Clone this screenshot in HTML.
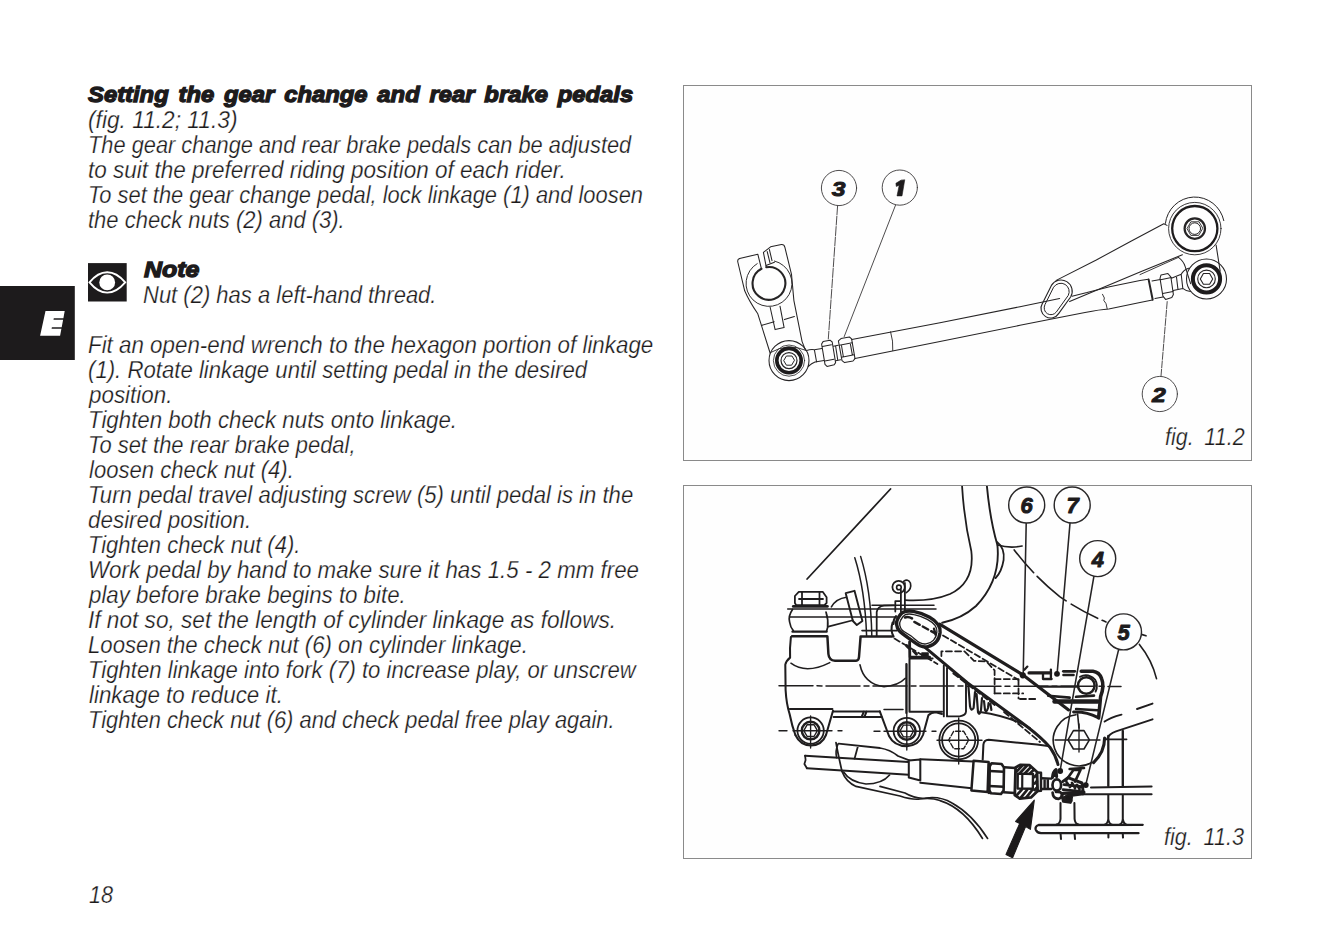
<!DOCTYPE html>
<html lang="en">
<head>
<meta charset="utf-8">
<title>Setting the gear change and rear brake pedals</title>
<style>
html,body{margin:0;padding:0;background:#fff;}
body{width:1338px;height:944px;overflow:hidden;font-family:"Liberation Sans",sans-serif;color:#1d1b1c;}
#page{position:relative;width:1338px;height:944px;background:#fff;overflow:hidden;}
.t,.h{position:absolute;white-space:pre;font-family:"Liberation Sans",sans-serif;font-style:italic;line-height:26px;height:26px;margin-top:-21px;color:#1d1b1c;transform-origin:0 0;}
.t{font-weight:400;font-size:23px;-webkit-text-stroke:0.25px #fff;}
.h{font-weight:700;font-size:22.5px;-webkit-text-stroke:1.3px #1d1b1c;word-spacing:3px;}
.frame{position:absolute;box-sizing:border-box;border:1px solid #8a8a8a;background:#fefefe;}
.c{word-spacing:5px;z-index:3;}
svg{position:absolute;overflow:visible;}
svg text{font-family:"Liberation Sans",sans-serif;}
</style>
</head>
<body>
<div id="page">
<div class="h" style="left:88.20px;top:102.5px;transform:scaleX(1.0588)">Setting the gear change and rear brake pedals</div>
<div class="t" style="left:87.81px;top:127.5px;transform:scaleX(0.9879)">(fig. 11.2; 11.3)</div>
<div class="t" style="left:88.40px;top:152.5px;transform:scaleX(0.9483)">The gear change and rear brake pedals can be adjusted</div>
<div class="t" style="left:88.02px;top:177.5px;transform:scaleX(0.9798)">to suit the preferred riding position of each rider.</div>
<div class="t" style="left:88.40px;top:202.5px;transform:scaleX(0.9511)">To set the gear change pedal, lock linkage (1) and loosen</div>
<div class="t" style="left:88.04px;top:227.5px;transform:scaleX(0.9562)">the check nuts (2) and (3).</div>
<div class="h" style="left:143.50px;top:277.5px;transform:scaleX(1.1100)">Note</div>
<div class="t" style="left:142.54px;top:302.5px;transform:scaleX(0.9564)">Nut (2) has a left-hand thread.</div>
<div class="t" style="left:87.53px;top:352.5px;transform:scaleX(0.9716)">Fit an open-end wrench to the hexagon portion of linkage</div>
<div class="t" style="left:88.04px;top:377.5px;transform:scaleX(0.9640)">(1). Rotate linkage until setting pedal in the desired</div>
<div class="t" style="left:88.97px;top:402.5px;transform:scaleX(0.9738)">position.</div>
<div class="t" style="left:88.36px;top:427.5px;transform:scaleX(0.9691)">Tighten both check nuts onto linkage.</div>
<div class="t" style="left:88.39px;top:452.5px;transform:scaleX(0.9540)">To set the rear brake pedal,</div>
<div class="t" style="left:88.50px;top:477.5px;transform:scaleX(0.9592)">loosen check nut (4).</div>
<div class="t" style="left:88.38px;top:502.5px;transform:scaleX(0.9612)">Turn pedal travel adjusting screw (5) until pedal is in the</div>
<div class="t" style="left:87.53px;top:527.5px;transform:scaleX(0.9744)">desired position.</div>
<div class="t" style="left:88.39px;top:552.5px;transform:scaleX(0.9553)">Tighten check nut (4).</div>
<div class="t" style="left:87.56px;top:577.5px;transform:scaleX(0.9708)">Work pedal by hand to make sure it has 1.5 - 2 mm free</div>
<div class="t" style="left:88.97px;top:602.5px;transform:scaleX(0.9675)">play before brake begins to bite.</div>
<div class="t" style="left:87.52px;top:627.5px;transform:scaleX(0.9835)">If not so, set the length of cylinder linkage as follows.</div>
<div class="t" style="left:87.54px;top:652.5px;transform:scaleX(0.9636)">Loosen the check nut (6) on cylinder linkage.</div>
<div class="t" style="left:88.38px;top:677.5px;transform:scaleX(0.9617)">Tighten linkage into fork (7) to increase play, or unscrew</div>
<div class="t" style="left:88.50px;top:702.5px;transform:scaleX(0.9721)">linkage to reduce it.</div>
<div class="t" style="left:88.40px;top:727.5px;transform:scaleX(0.9515)">Tighten check nut (6) and check pedal free play again.</div>
<div class="t" style="left:88.56px;top:902.5px;transform:scaleX(0.9400)">18</div>
<div class="t c" style="left:1165.06px;top:444.7px;transform:scaleX(0.9357)">fig. 11.2</div>
<div class="t c" style="left:1163.86px;top:844.5px;transform:scaleX(0.9399)">fig. 11.3</div>
<!-- side tab -->
<svg style="left:0;top:286px" width="75" height="74" viewBox="0 286 75 74">
  <rect x="0" y="286" width="74.8" height="74" fill="#1d1b1c"/>
  <path d="M45.5 311.1 L64.7 311.1 L63.4 318.3 L53.8 318.3 L53.5 319.8 L63.1 319.8 L61.7 327.3 L51.9 327.3 L51.6 328.8 L61.4 328.8 L60.1 335.8 L40.1 335.8 Z" fill="#fff"/>
</svg>
<!-- note icon -->
<svg style="left:88px;top:263px" width="39" height="39" viewBox="88 263 39 39">
  <rect x="88" y="263.1" width="38.7" height="38.4" fill="#1d1b1c"/>
  <path d="M89.5 282.4 C96 274.5 101.5 272.3 107.2 272.3 C113 272.3 118.5 274.5 125.2 282.4 C118.5 290.3 113 292.6 107.2 292.6 C101.5 292.6 96 290.3 89.5 282.4 Z" fill="none" stroke="#fff" stroke-width="1.9"/>
  <circle cx="107.2" cy="282.4" r="7.9" fill="#fff"/>
</svg>
<!-- figure frames -->
<div class="frame" style="left:683px;top:85px;width:569px;height:376px"></div>
<div class="frame" style="left:683px;top:485px;width:569px;height:374px"></div>

<!-- fig 11.2 : gear change linkage -->
<svg style="left:683px;top:85px" width="569" height="376" viewBox="683 85 569 376" fill="none" stroke="#262425" stroke-width="1.05" stroke-linecap="round" stroke-linejoin="round">
  <!-- callout leaders -->
  <g stroke-width="0.9" stroke="#3a3839">
    <line x1="837.6" y1="205.6" x2="828.3" y2="339" stroke-dasharray="9 1.5"/>
    <line x1="895.6" y1="205" x2="844.2" y2="336.6"/>
    <line x1="1167.2" y1="301.6" x2="1161" y2="376.2" stroke-dasharray="7 1.5"/>
  </g>
  <!-- callout circles -->
  <g stroke-width="0.9" fill="#fefefe" stroke="#3a3839">
    <circle cx="839" cy="188" r="17.6"/>
    <circle cx="899.8" cy="187.6" r="17.6"/>
    <circle cx="1159.8" cy="394" r="17.6"/>
  </g>
  <g fill="#1d1b1c" stroke="#1d1b1c" stroke-width="0.9" font-size="21" font-weight="700" font-style="italic" text-anchor="middle">
    <text x="838.6" y="195.6" transform="translate(838.6 0) scale(1.18 1) translate(-838.6 0)">3</text>
    <path d="M904.7 180.1 L902 195.9 L897 195.9 L899.2 185.3 L896.3 186.4 L895.9 183.3 L900.8 180.3 Z" stroke-width="0.6"/>
    <text x="1158.8" y="401.6" transform="translate(1158.8 0) scale(1.18 1) translate(-1158.8 0)">2</text>
  </g>

  <!-- left clamp lever -->
  <path d="M739.6 258.6 L757.8 254.2 L761.45 268.8"/>
  <path d="M766.3 267.2 L763.4 252.4 L770.6 246.8 L781.4 244.6 Q784.2 244.4 784.9 247.4 L791.5 274.4 L793.9 300.6 L802.1 341.6 L805.4 350"/>
  <path d="M739.6 258.6 Q737.2 259.4 737.8 262 L744.7 290.8 Q749 301 757.8 313.8 L770.1 353"/>
  <path d="M766 265.4 L774.4 262.2"/>
  <path d="M767.2 251.6 L770 262.8 M769.4 249.6 L772 260.6"/>
  <!-- clamp ring -->
  <path d="M761.45 268.8 A16.4 16.4 0 1 0 766.3 267.2" stroke-width="2.1"/>
  <path d="M757.2 263.6 A23 23 0 1 0 774.4 261" stroke-width="0.95"/>
  <!-- slot below ring -->
  <path d="M770.1 307 L775.1 329.6 L784.1 327.6 L780 306.2"/>
  <path d="M761.4 325.4 L774.2 321.8 M784.4 319.6 L794.4 316.6"/>
  <!-- lower-left eye -->
  <circle cx="789" cy="360.6" r="20" />
  <path d="M770.8 352.4 Q788 342.4 806 350.4" stroke-width="0.9"/>
  <circle cx="789" cy="360.6" r="12.2" stroke-width="3.6" stroke="#1d1b1c"/>
  <circle cx="789" cy="360.6" r="15.6" stroke-width="0.8"/>
  <circle cx="789" cy="360.6" r="8" stroke-width="1.2"/>
  <path d="M794.3 360.6 L791.6 365.2 L786.4 365.2 L783.7 360.6 L786.4 356 L791.6 356 Z" stroke-width="1"/>
  <!-- rod-end neck -->
  <path d="M806.6 350.6 Q811 349 814.4 349.8 L823.4 348.2 M808.4 366.4 Q811.6 363.4 815 362 L824 360.6 M814.4 349.8 L816.6 362"/>
  <!-- nut 3 -->
  <path d="M823.1 341.6 L830 340.2 L832.2 342 L835.6 362.6 L834.2 364.8 L827 366.4 L825 364.4 L821.6 344 Z" fill="#fefefe"/>
  <path d="M822.4 346.6 L831.4 344.8 M824.8 361 L834 359.2"/>
  <!-- thread between nuts -->
  <path d="M833.4 346.2 L838.2 345.2 M835.8 360.8 L840.6 359.8 M835.6 346 L837.8 360.4" />
  <!-- nut 1 (hexagon of linkage) -->
  <path d="M838.4 340.8 L841 338.6 L849.4 337 L851.6 338.8 L855 358.6 L853 361 L844.6 362.6 L842 360.6 Z" fill="#fefefe"/>
  <path d="M839.4 345.2 L852.2 342.8 M841.6 357.2 L854.2 354.8 M841.4 345 L843.4 357 M850.2 343.2 L852.4 355.2"/>
  <!-- main rod -->
  <path d="M851.8 339.6 L940 322.8 L1020 306.7 L1059.6 298.6"/>
  <path d="M855 358.6 L940 341.4 L1020 325.3 L1058.1 317.7 L1085 312.6 Q1100 309.6 1108.7 309.1 L1140 302.4 L1152.4 300"/>
  <path d="M890.6 331.8 Q893.4 341 892.8 350.6" stroke-width="0.9"/>
  <!-- foot loop (oval) -->
  <path d="M1051.4 285.4 A11.2 11.2 0 0 1 1070.6 297 L1058.8 313.4 A9.6 9.6 0 0 1 1042.4 303.4 Z" stroke-width="1.1"/>
  <path d="M1053.8 286.9 A8.4 8.4 0 0 1 1068.2 295.5 L1056.4 311.9 A6.8 6.8 0 0 1 1044.8 304.9 Z" stroke-width="1.0"/>
  <!-- upper arm -->
  <path d="M1056.2 280.4 L1096.3 260 L1130 241.7 L1163.8 223.8 L1167 225.4"/>
  <path d="M1069.6 301.6 L1140 271.9 L1182.4 254.8"/>
  <path d="M1072 296.2 L1087 292.6 M1087 292.6 L1109.6 286.7 L1140 280.5 L1148.4 279.2"/>
  <path d="M1102.5 294.3 L1104.4 298 L1103.8 300.4 L1106 303.6 L1107.2 308.8" stroke-width="0.9"/>
  <!-- upper-right big eye -->
  <path d="M1165.4 223.4 A29.6 29.6 0 0 1 1223.8 220.6" stroke-width="1"/>
  <circle cx="1194.8" cy="228.6" r="26.2" stroke-width="0.9"/>
  <circle cx="1194.8" cy="228.6" r="22.6" stroke-width="2.3" stroke="#1d1b1c"/>
  <circle cx="1194.8" cy="228.6" r="10.2" stroke-width="2.2"/>
  <circle cx="1194.8" cy="228.6" r="5.8" stroke-width="1"/>
  <path d="M1202.6 228.6 L1198.7 235.4 L1190.9 235.4 L1187 228.6 L1190.9 221.8 L1198.7 221.8 Z" stroke-width="0.9"/>
  <!-- link between eyes -->
  <path d="M1216.1 245.1 L1220.2 271.3"/>
  <path d="M1178.4 257.4 Q1183.4 261 1185.1 266.4 L1190.6 283.7"/>
  <path d="M1178.4 257.4 L1140 274.6" stroke-width="0.9"/>
  <!-- lower-right eye -->
  <circle cx="1206.5" cy="278.9" r="20"/>
  <circle cx="1206.5" cy="278.9" r="13.6" stroke-width="4" stroke="#1d1b1c"/>
  <circle cx="1206.5" cy="278.9" r="8.8" stroke-width="1.1"/>
  <path d="M1212.7 278.9 L1209.6 284.3 L1203.4 284.3 L1200.3 278.9 L1203.4 273.5 L1209.6 273.5 Z" stroke-width="1.1"/>
  <!-- right rod end neck -->
  <path d="M1188.6 268.2 Q1183.4 270 1181.2 274.2 L1171.4 278.2 M1190.4 291.6 Q1185.6 290.8 1182.8 288.4 L1173.2 290.6 M1181.2 274.2 L1182.8 288.4 M1176.4 276.2 L1178 289.6"/>
  <!-- nut 2 -->
  <path d="M1161 274.9 L1167.9 273.5 L1170.9 277.2 L1173.4 294.6 L1171.8 297.6 L1165.6 299.4 L1162.9 296.2 L1160 278.4 Z" fill="#fefefe"/>
  <path d="M1160.6 279.8 L1171.4 277.6 M1162.8 293.4 L1173 291.4"/>
  <!-- thread / collar -->
  <path d="M1148.6 279.4 L1152.7 299.8" stroke-width="2"/>
  <path d="M1152 281 L1160.4 279.4 M1155 298.6 L1163 297"/>
</svg>

<!-- fig 11.3 : rear brake pedal -->
<svg style="left:683px;top:485px" width="569" height="374" viewBox="683 485 569 374" fill="none" stroke="#1f1d1e" stroke-width="1.70" stroke-linecap="round" stroke-linejoin="round">
  <defs><clipPath id="f2clip"><rect x="684" y="486" width="567" height="372"/></clipPath></defs>
  <g clip-path="url(#f2clip)">
  <!-- ===== background frame parts ===== -->
  <path d="M890.5 489 L807.1 579" stroke-width="1.77"/>
  <!-- frame tube, inner/left edge -->
  <path d="M962 485 Q964 520 971.3 551 Q975 582 950 594 Q932 601.6 905 600.2" stroke-width="1.77"/>
  <!-- frame tube, outer/right edge -->
  <path d="M986.8 485 Q990 520 997.4 545 Q1001 580 976 606 Q962 618.6 942.2 622.7" stroke-width="1.90"/>
  <path d="M997 542 Q1005 548 1003.6 560 Q1001.6 572 995.6 578" stroke-width="1.77"/>
  <path d="M997.4 545 Q1010 548.6 1022.1 546" stroke-width="1.63"/>
  <!-- dashed swing arc -->
  <path d="M1014.2 549.9 Q1034 576 1059.7 596.6 Q1082 612 1106 622" stroke-dasharray="30 5 38 6" stroke-width="1.63"/>
  <path d="M1141.4 634.4 L1146 635.8" stroke-width="1.63"/>
  <path d="M1139.4 644.4 Q1152 660 1156.5 678.6" stroke-width="1.63"/>
  <!-- swingarm lines on the right -->
  <path d="M1104.6 721.6 Q1110 717.6 1121.5 714.6 M1137 709 L1152.5 703.6" stroke-width="1.90"/>
  <path d="M1107.4 738.6 Q1109 733.6 1116 731.4 L1152.5 719.4" stroke-width="2.04"/>
  <!-- footrest grid -->
  <path d="M1108.3 736 L1108.3 786" stroke-width="2.31"/>
  <path d="M1122.8 731 L1122.8 786" stroke-width="2.36"/>
  <path d="M1104.6 739.4 L1126.6 739.4" stroke-width="1.63"/>
  <path d="M1091 787.5 L1151.6 786.4 M1082.5 794.3 L1151.6 794.3" stroke-width="2.04"/>
  <path d="M1108.3 795 L1108.3 819 Q1107.8 823.6 1104.6 824.6 M1108.3 819 Q1108.8 823.6 1112 824.6 M1122.8 795 L1122.8 819 Q1122.4 823.6 1119.4 824.6 M1122.8 819 Q1123.4 823.6 1126.4 824.6" stroke-width="2.04"/>
  <path d="M1060.5 803 L1060.5 819 Q1060 823.6 1056.6 824.6 M1074.4 803 L1074.6 819 Q1075 823.6 1078.4 824.6" stroke-width="2.04"/>
  <path d="M1142.7 824.8 L1038.6 825 Q1034.8 826.4 1035.7 829.6 Q1037 833 1041 833.2 L1138.5 833.2" stroke-width="2.31"/>
  <path d="M1060.6 834 L1061 839 M1074.6 834 L1075 839 M1108.4 834 L1108.4 837.6 M1122.8 834 L1123 837.6" stroke-width="2.04"/>

  <!-- ===== brake master cylinder body ===== -->
  <!-- cap bolt -->
  <path d="M798.8 591.8 L822.7 591.8 L826.6 597.2 L826.6 603 L824.4 605.2 L796.2 605.2 L794.9 603 L794.9 596 Z M802 592 L802 605 M819.5 592 L819.5 605 M799 599 L823 599" stroke-width="1.77"/>
  <path d="M793.3 606.4 L827.4 606.4" stroke-width="2.83"/>
  <!-- long horizontals -->
  <path d="M787.7 608.9 L936 608.9 M790 617.1 L897 617.1" stroke-width="1.50"/>
  <path d="M872 605.2 L934 605.2" stroke-width="1.50"/>
  <!-- bulged neck -->
  <path d="M792.5 609.4 Q788 616 789.6 622 Q790.4 627.4 793.3 630.6 M826 612 Q828.6 620 827.6 627.6 L826.6 631"/>
  <path d="M792.5 631.6 L826.6 631.6 M792 636.2 L826.8 636.2" stroke-width="2.36"/>
  <!-- main body left / bottom -->
  <path d="M790.9 637 Q789.6 648 790.1 657.6 Q786 661 785.3 664.6 L785.6 690 Q786.4 704 789.6 714 Q792 726 795.4 735" stroke-width="2.04"/>
  <!-- U notch -->
  <path d="M827.4 636.4 L828.4 654 Q829 660.4 835 660.8 L856 660.8 Q858.8 660.6 859 657 L860.6 636.4 L892 636.4" stroke-width="2.48"/>
  <path d="M790.9 663.2 Q806 674.6 829.8 662.6" stroke-width="1.50"/>
  <path d="M860 664.8 Q864 684 884 686.6 Q898 686 905.3 678.3" stroke-width="1.63"/>
  <!-- centre line -->
  <path d="M779 685.8 L1121 686.4" stroke-width="1.50" stroke-dasharray="34 4 5 4"/>
  <!-- reservoir fitting -->
  <path d="M845.7 593.2 L854.5 590.8 L862.4 621 L856.8 625 L852.9 621 Z" stroke-width="1.90"/>
  <path d="M828.2 626.6 L852.9 620.3 M831.4 606.8 Q836 598.6 846.5 597.2" stroke-width="1.63"/>
  <!-- hose -->
  <path d="M854.8 557.8 Q865 590 866.6 635.6 M860.6 556.4 Q871 590 871.8 635.6" stroke-width="1.50"/>
  <!-- right shoulder of body -->
  <path d="M876.7 636 L876.7 612 Q877.6 606.4 884 605.6 L894 605.4" stroke-width="1.77"/>
  <path d="M862 630.6 L897 630.6" stroke-width="1.63"/>
  <!-- cotter pin -->
  <circle cx="898.6" cy="587" r="6.2" stroke-width="1.77"/>
  <circle cx="898.9" cy="587.4" r="2.3" stroke-width="1.63"/>
  <path d="M903.6 581.4 Q908 578.2 910.4 583 Q912 589 906.4 592.6" stroke-width="1.63"/>
  <path d="M900.9 590 L900.9 611.5 M904.9 583 L904.9 611.5 M895.3 601.2 L900.9 601.2 M895.3 601.2 L895.3 611.5" stroke-width="1.77"/>
  <!-- cylinder block right of notch -->
  <path d="M906.3 664 L906.3 713 M909.5 659.2 L909.5 711.8 L942 711.8 M909.5 658.6 L932.6 658.6" stroke-width="2.04"/>
  <path d="M943.8 665.6 L943.8 716.4 M947 668 L947 716.4 L959.7 716.4 Q965.6 715.6 966 711.7 L966 683" stroke-width="1.90"/>
  <!-- rubber boot -->
  <path d="M968.4 686 L970 706 Q971 712 973.6 708 L975 692 M976.6 694 L978 712 Q979.6 716 981 710 L982 698 M984 701 L985 710 Q986.4 713 988 708 L988.6 703 M990.4 704 L991.4 710" stroke-width="2.18"/>
  <!-- bottom edge + tabs -->
  <path d="M789.8 708.9 L832.4 708.9 M833 711.4 L879.8 711.4 M833.6 717 L881.6 717 M864 711.4 L861.6 717 M866.6 711.4 L864.4 717" stroke-width="2.04"/>
  <path d="M884 709.6 L903 709.6" stroke-width="1.50"/>
  <path d="M795.4 735 Q800 745 811 745.6 Q822 745 826 735 L833 710.8" stroke-width="2.04"/>
  <path d="M879.8 711.4 L889 736 Q894 746 907 746.2 Q919 745.4 923 735 L928.4 715.2 Q931 712.4 936 712.2 L942 714" stroke-width="2.04"/>
  <!-- mounting bolts -->
  <g stroke-width="1.77">
    <circle cx="810.6" cy="730.6" r="13.2"/><circle cx="810.6" cy="730.6" r="8.8" stroke-width="2.45"/>
    <path d="M817.4 730.6 L814 736.5 L807.2 736.5 L803.8 730.6 L807.2 724.7 L814 724.7 Z M810.6 716 L810.6 748 M779 730.8 L787 730.8 M793 730.8 L832 730.8 M838 730.8 L842 730.8" stroke-width="1.36"/>
    <circle cx="906.8" cy="731" r="13.2"/><circle cx="906.8" cy="731" r="8.8" stroke-width="2.45"/>
    <path d="M913.6 731 L910.2 736.9 L903.4 736.9 L900 731 L903.4 725.1 L910.2 725.1 Z M906.8 664 L906.8 750 M874 731.2 L880 731.2 M884 731.2 L926 731.2 M932 731.2 L936 731.2" stroke-width="1.36"/>
    <circle cx="958.7" cy="740" r="19.4"/><circle cx="958.7" cy="740" r="16.6"/>
    <path d="M968.7 740 L963.7 748.7 L953.7 748.7 L948.7 740 L953.7 731.3 L963.7 731.3 Z" stroke-width="1.36" stroke-dasharray="5 2"/>
    <path d="M958.7 718 L958.7 764 M937 740.2 L982 740.2" stroke-width="1.36"/>
  </g>

  <!-- ===== pushrod, hose & lower lines ===== -->
  <path d="M805.1 755.7 L805.6 760 L804.4 764 L806.9 768.3" stroke-width="1.77"/>
  <path d="M805.1 755.7 L908.6 762 M806.9 768.3 L908.6 774.8" stroke-width="2.04"/>
  <path d="M836 742.6 Q838 754 842 771.4 M838.6 743.6 L880 748 Q890 749.6 898 756 L910 760.6 M858 746 L854.6 758.6" stroke-width="1.77"/>
  <path d="M838 744 Q835 751 836.6 757.6" stroke-width="1.63"/>
  <path d="M843.6 772 Q850 782 866 784 M866 784 Q882 784 889.6 775" stroke-width="1.63"/>
  <path d="M842 771.4 Q846 782 856 786.4 L900 796 Q912 800 920 799 Q932 797.6 940 800.6 Q964 808 982.5 838.5" stroke-width="1.63"/>
  <path d="M880 786.4 L905 793 Q916 799.4 926 798 Q940 796 952 803 Q972 814 987.6 838.5" stroke-width="1.63"/>
  <!-- small collar + cylinder -->
  <path d="M908.8 760.4 L920.3 759.4 L920.3 780.4 L908.8 777.6 Z" stroke-width="2.04" fill="#fefefe"/>
  <path d="M920.3 759.3 L973.5 761.6 M920.3 782.7 L971.7 788.2" stroke-width="2.04"/>
  <!-- body outline above the rod, towards pivot -->
  <path d="M982.7 759.6 L983.4 744.6 Q984 740 988.6 739.8 L1037 744.5 L1048 746" stroke-width="2.04"/>
  <!-- big collar -->
  <path d="M973.6 760.8 L988.6 762 L987.6 792 L971.4 790.4 Z" stroke-width="2.48" fill="#fefefe"/>
  <!-- nut A -->
  <path d="M991.6 763.2 L1001.6 764 L1004 767.6 L1003.6 790.4 L1001 794 L991 793.2 L988.8 789.6 L989.6 766.6 Z" stroke-width="2.60" fill="#fefefe"/>
  <path d="M989.6 771 L1003.8 771.8 M989 786 L1003.6 786.8" stroke-width="2.58"/>
  <path d="M989.4 764 L989 792.6" stroke-width="3.07"/>
  <path d="M1004.2 767.2 L1015.2 768 M1003.6 792.2 L1014.8 793" stroke-width="2.36"/>
  <!-- nut B (sectioned) -->
  <path d="M1015.6 767.4 L1020.6 764.8 L1029.6 765.2 L1037 772 L1037.6 791 L1031 797.4 L1019.8 798.6 L1014.8 795 Z" stroke-width="2.83" fill="#fefefe"/>
  <path d="M1017.8 773.6 L1033 774 L1032.8 788.8 L1017.6 788.6 Z" stroke-width="2.36"/>
  <path d="M1022.3 774 L1022.2 788.6" stroke-width="2.18"/>
  <path d="M1016.6 771.6 L1021.6 766.4 M1020 773 L1026.6 766 M1025 773.2 L1030.6 767.4 M1030 773.4 L1034 769.6 M1016.6 795.4 L1021.6 789.8 M1021 797.4 L1027 790 M1026.4 797.4 L1032.2 790 M1034.4 777 L1036.6 774.8 M1034.6 790 L1036.8 787.6 M1034.6 783.6 L1036.8 781.2" stroke-width="2.71"/>
  <path d="M1037.6 772.6 L1041 772.8 L1041 790.8 L1037.8 791" stroke-width="2.48"/>
  <path d="M1041.4 778.2 L1051 778.6 M1041.4 789 L1051 789 M1044.6 778.4 L1044.6 789 M1047.8 778.6 L1047.8 789" stroke-width="2.45"/>
  <!-- ball / adjuster cluster -->
  <ellipse cx="1056.8" cy="785" rx="4.3" ry="5.7" stroke-width="2.71"/>
  <path d="M1052.4 777.6 Q1053 771.6 1056 769.6 L1056.6 776.6" stroke-width="3.07" fill="#1b191a"/>
  <path d="M1052.6 792.6 Q1053 798.6 1058.4 798.8 Q1062.4 798 1062 793.6 Q1060 791.2 1056 792" stroke-width="2.71"/>
  <path d="M1062.6 781.6 L1068 777.6 L1082 783 L1083.4 793.8 L1072 795.2 L1070.4 802.4 L1063.4 801.4 L1062 795" stroke-width="2.95"/>
  <path d="M1066 780.6 L1073.4 770 L1080.6 769.6 L1075 781.6 M1069.6 769 L1084 768" stroke-width="2.60"/>
  <path d="M1064 784.6 L1081.6 786.6 M1063 789.6 L1082.6 791.6 M1066.6 782.2 L1070 787 M1072 783 L1075 788 M1077 785 L1079.6 789" stroke-width="2.71"/>
  <path d="M1064.6 797 L1070 793.6 L1071.6 801 L1065 800.4 Z" stroke-width="2.18" fill="#1b191a"/>
  <path d="M1063 793.4 L1084 792.4" stroke-width="3.07"/>
  <!-- ===== pivot ===== -->
  <path d="M1076 714.8 A25.6 25.6 0 1 0 1092 762.2" stroke-width="1.63"/>
  <path d="M1104.6 738 Q1104.6 752 1093.6 762.6" stroke-width="3.07"/>
  <path d="M1089.4 739.8 L1084 749 L1073.4 749 L1068 739.8 L1073.4 730.6 L1084 730.6 Z" stroke-width="1.56"/>
  <path d="M1079 724 L1079 752 M1055 740 L1100 740" stroke-width="1.36"/>
  <!-- ===== clevis (fork) ===== -->
  <path d="M1081.2 671.2 L1093 671.2 Q1099.4 672 1101.6 678.6 Q1104.6 686 1100.6 696.6 L1098.6 718" stroke-width="3.54"/>
  <path d="M1063.4 671.3 L1074.8 671.3" stroke-width="2.83"/>
  <path d="M1063.4 674.9 L1073.6 674.9" stroke-width="2.45"/>
  <path d="M1029 672.9 L1050.7 672.9" stroke-width="3.07"/>
  <path d="M1050.9 669.6 L1050.9 679.2 M1043 674 L1043 679 L1051.6 679" stroke-width="2.31"/>
  <path d="M1024.4 669.8 L1027.4 666.6" stroke-width="2.18"/>
  <circle cx="1086.3" cy="685.5" r="8.3" stroke-width="2.58"/>
  <path d="M1080 676.8 Q1088 672.8 1095 679.6 Q1098.6 685.6 1095.6 691.6" stroke-width="1.90"/>
  <path d="M1039.2 686.6 L1077.6 686.6" stroke-width="2.36"/>
  <path d="M1048.1 695.7 L1069.7 697.6 M1076 696.8 L1094 695.6" stroke-width="2.58"/>
  <path d="M1054.5 701.4 L1097.7 701.4" stroke-width="4.48"/>
  <path d="M1076.1 709 L1097.7 710.3" stroke-width="2.60"/>
  <path d="M1073.6 712 Q1087 711.6 1097.7 717.4" stroke-width="3.07"/>
  <path d="M1077.6 714 L1079 728" stroke-width="1.63"/>
  <!-- ===== pedal arm ===== -->
  <!-- hidden (dashed) lines -->
  <g stroke-width="1.77" stroke-dasharray="6 3.2">
    <path d="M943 635.4 L1018.5 679.9"/>
    <path d="M894.5 638.6 L937.4 664 M953.3 673.5 L996 706 M1004 712 L1040 742"/>
    <path d="M941.4 656 L941.4 651.3 L964.5 651.3 L974 660.8 L986.6 661.6 L994.6 670.4 L994.6 693.4"/>
    <path d="M994.6 679.1 L1018.5 679.1 M994.6 693.4 L1023.2 693.4 M1018.5 679.1 L1018.5 698.4 M1020 699 L1036 699"/>
  </g>
  <!-- upper edge (thick) -->
  <path d="M939.6 624.2 L1022.4 674.6 L1068.6 709.9" stroke-width="3.19"/>
  <!-- lower edge (thick) -->
  <path d="M925 647.4 L967.6 683 L1026.6 726.2 Q1042 738 1049.9 747.2 Q1056 756 1058 764.6" stroke-width="2.95"/>
  <path d="M980 712 Q1010 716.4 1030 728" stroke-width="1.77"/>
  <!-- oval pad -->
  <path d="M897.6 619.1 C898.7 617.0 900.3 613.7 902.9 612.4 C905.5 611.1 908.9 610.6 913.4 611.4 C917.8 612.2 925.4 614.9 929.6 617.2 C933.7 619.4 936.4 622.2 938.2 624.8 C939.9 627.3 940.4 629.6 940.1 632.4 C939.7 635.3 938.3 639.6 936.2 641.9 C934.2 644.3 930.4 646.1 927.7 646.7 C925.0 647.3 923.2 647.2 920.0 645.8 C916.9 644.3 912.1 640.7 908.6 638.1 C905.1 635.6 901.1 632.7 899.1 630.5 C897.1 628.3 896.9 626.7 896.7 624.8 C896.4 622.9 896.6 621.1 897.6 619.1 Z" stroke-width="3.42" fill="#fefefe"/>
  <path d="M900.5 620.5 C901.4 618.7 902.7 615.8 905.0 614.8 C907.3 613.8 910.4 613.8 914.1 614.6 C917.8 615.3 923.8 617.6 927.3 619.4 C930.7 621.2 933.4 623.3 935.0 625.4 C936.6 627.5 937.1 629.4 936.9 631.9 C936.7 634.4 935.4 638.1 933.6 640.1 C931.8 642.1 928.4 643.5 926.1 643.9 C923.7 644.3 922.1 643.9 919.6 642.6 C917.0 641.2 913.7 637.9 910.8 635.8 C907.9 633.7 904.1 631.9 902.3 630.2 C900.4 628.5 900.1 627.0 899.8 625.4 C899.5 623.8 899.6 622.2 900.5 620.5 Z" stroke-width="1.36"/>
  <path d="M914.3 621.9 L935.3 633.4" stroke-width="2.36" stroke-dasharray="6.2 3.4"/>
  <path d="M905 617.4 Q908.6 616.4 912 618.4" stroke-width="2.60"/>
  <path d="M934 628.6 L935.6 634.6" stroke-width="2.36"/>
  <path d="M892.6 622.6 Q890 630 893.6 636.6 M896 616 Q893 620 893.6 624" stroke-width="2.04"/>
  <path d="M909.6 642 L909.8 657.2 L929.6 657.2" stroke-width="2.83"/>
  <path d="M922 653 L928 653 L928 656.6 L922 656.6 Z" fill="#1b191a" stroke-width="1.63"/>
  <path d="M906.6 645.6 L909 648 M913.6 651 L916.4 654" stroke-width="3.07"/>
  <!-- ===== arrow ===== -->
  <path d="M1034.3 800.2 L1030.4 829.4 L1025.6 826.6 L1012.6 857.8 L1006 854.4 L1019.6 823.6 L1015.6 821.4 Z" fill="#1b191a" stroke="#1b191a" stroke-width="1.09"/>
  <!-- ===== callout leaders ===== -->
  <g stroke-width="1.56" stroke="#262425">
    <line x1="1026.2" y1="523.3" x2="1023.2" y2="674.6"/>
    <line x1="1070" y1="523.3" x2="1057.2" y2="672.6"/>
    <line x1="1093.9" y1="576.4" x2="1060.2" y2="770.2"/>
    <line x1="1118.5" y1="650.1" x2="1085.8" y2="784.6"/>
  </g>
  <g fill="#1b191a" stroke="none">
    <circle cx="1022.8" cy="675.3" r="3.1"/><circle cx="1057" cy="673.8" r="2.9"/>
    <circle cx="1060.2" cy="771" r="2.9"/><circle cx="1085.8" cy="785.1" r="2.9"/>
  </g>
  <!-- ===== callout circles ===== -->
  <g stroke-width="1.43" fill="#fefefe" stroke="#2a2829">
    <circle cx="1026.7" cy="505" r="18"/>
    <circle cx="1072.2" cy="505" r="18"/>
    <circle cx="1097.7" cy="558.6" r="18"/>
    <circle cx="1123.5" cy="631.9" r="18"/>
  </g>
  <g fill="#1d1b1c" stroke="#1d1b1c" stroke-width="0.95" font-size="22" font-weight="700" font-style="italic" text-anchor="middle">
    <text x="1026.6" y="512.8">6</text>
    <text x="1072.6" y="512.8">7</text>
    <text x="1097.8" y="566.6">4</text>
    <text x="1123.6" y="639.8">5</text>
  </g>
  </g>
</svg>

</div>
</body>
</html>
